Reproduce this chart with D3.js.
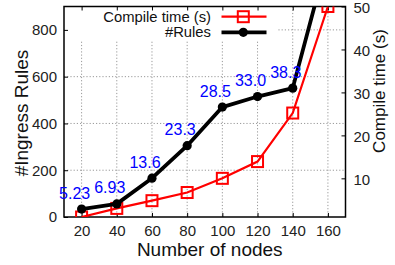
<!DOCTYPE html>
<html>
<head>
<meta charset="utf-8">
<script src="https://cdn.jsdelivr.net/npm/d3@7"></script>
<style>
  html, body { margin: 0; padding: 0; background: #fff; }
  svg { display: block; font-family: "Liberation Sans", Arial, sans-serif; }
</style>
</head>
<body>
<div id="chart"></div>
<script>
// data
const nodes = [20, 40, 60, 80, 100, 120, 140, 160];
const rules = [34, 56, 166, 305, 470, 515, 551, 1115];
const compileTime = [1.0, 3.0, 4.8, 6.7, 10.0, 13.9, 25.2, 50];
const pointLabels = ["5.23", "6.93", "13.6", "23.3", "28.5", "33.0", "38.3"];
const xTicks = [20, 40, 60, 80, 100, 120, 140, 160];
const yTicks = [0, 200, 400, 600, 800];
const y2Ticks = [10, 20, 30, 40, 50];

const W = 395, H = 265;
const margin = { top: 6.5, right: 49.5, bottom: 48, left: 64 };
const iw = W - margin.left - margin.right;
const ih = H - margin.top - margin.bottom;

const svg = d3.select("#chart").append("svg")
  .attr("width", W).attr("height", H);

const g = svg.append("g")
  .attr("transform", `translate(${margin.left},${margin.top})`);

const x = d3.scaleLinear().domain([10, 170]).range([0, iw]);
const y = d3.scaleLinear().domain([0, 900]).range([ih, 0]);
const y2 = d3.scaleLinear().domain([1, 50]).range([ih, 0]);

svg.append("defs").append("clipPath").attr("id", "clip")
  .append("rect").attr("width", iw).attr("height", ih);

// grid
const grid = g.append("g")
  .attr("stroke", "#999").attr("stroke-width", 1)
  .attr("stroke-dasharray", "1.2,2");
grid.selectAll(".vx").data(xTicks).enter().append("line")
  .attr("x1", d => x(d)).attr("x2", d => x(d))
  .attr("y1", 0).attr("y2", ih);
grid.selectAll(".hy").data(yTicks.filter(d => d > 0)).enter().append("line")
  .attr("x1", 0).attr("x2", iw)
  .attr("y1", d => y(d)).attr("y2", d => y(d));

// legend background (opaque key)
g.append("rect")
  .attr("x", 0).attr("y", 0)
  .attr("width", 213).attr("height", 34)
  .attr("fill", "#fff");

// axes
const tickFont = "15px";
const xAxis = g.append("g").attr("transform", `translate(0,${ih})`)
  .call(d3.axisBottom(x).tickValues(xTicks).tickSize(-4).tickPadding(8));
const xTop = g.append("g")
  .call(d3.axisTop(x).tickValues(xTicks).tickSize(-4).tickFormat(""));
const yAxis = g.append("g")
  .call(d3.axisLeft(y).tickValues(yTicks).tickSize(-4).tickPadding(7));
const y2Axis = g.append("g").attr("transform", `translate(${iw},0)`)
  .call(d3.axisRight(y2).tickValues(y2Ticks).tickSize(-4).tickPadding(8));

[xAxis, xTop, yAxis, y2Axis].forEach(a => {
  a.select(".domain").remove();
  a.selectAll(".tick line").attr("stroke", "#000").attr("stroke-width", 1);
  a.selectAll("text").attr("font-size", tickFont).attr("fill", "#222")
    .attr("font-family", "Liberation Sans, Arial, sans-serif");
});
// keep the top "50" inside the window
y2Axis.selectAll("text").attr("dy", "0.4em");

// frame
g.append("rect")
  .attr("width", iw).attr("height", ih)
  .attr("fill", "none").attr("stroke", "#000").attr("stroke-width", 1.5);

// series
const plot = g.append("g").attr("clip-path", "url(#clip)");

const redLine = d3.line().x((d, i) => x(nodes[i])).y(d => y2(d));
plot.append("path").datum(compileTime)
  .attr("d", redLine)
  .attr("fill", "none").attr("stroke", "#f00").attr("stroke-width", 2.2);
plot.selectAll(".sq").data(compileTime).enter().append("rect")
  .attr("x", (d, i) => x(nodes[i]) - 5.5)
  .attr("y", d => y2(d) - 5.5)
  .attr("width", 11).attr("height", 11)
  .attr("fill", "none").attr("stroke", "#f00").attr("stroke-width", 2);

const blackLine = d3.line().x((d, i) => x(nodes[i])).y(d => y(d));
plot.append("path").datum(rules)
  .attr("d", blackLine)
  .attr("fill", "none").attr("stroke", "#000").attr("stroke-width", 3.8)
  .attr("stroke-linejoin", "round");
plot.selectAll(".dot").data(rules).enter().append("circle")
  .attr("cx", (d, i) => x(nodes[i]))
  .attr("cy", d => y(d))
  .attr("r", 4.6).attr("fill", "#000");

// value labels
g.selectAll(".lbl").data(pointLabels).enter().append("text")
  .attr("x", (d, i) => x(nodes[i]) - 7)
  .attr("y", (d, i) => y(rules[i]) - 10.5)
  .attr("text-anchor", "middle")
  .attr("font-size", "16px")
  .attr("fill", "#0000ff")
  .text(d => d);

// legend
const legend = g.append("g");
const keys = [
  { name: "Compile time (s)", color: "#f00", width: 2.2, mark: "square", yy: 10.2 },
  { name: "#Rules", color: "#000", width: 3.8, mark: "circle", yy: 25.8 }
];
keys.forEach(k => {
  legend.append("text")
    .attr("x", 147).attr("y", k.yy + 5)
    .attr("text-anchor", "end")
    .attr("font-size", "14.8px").attr("fill", "#111")
    .text(k.name);
  legend.append("line")
    .attr("x1", 157.5).attr("x2", 202.5)
    .attr("y1", k.yy).attr("y2", k.yy)
    .attr("stroke", k.color).attr("stroke-width", k.width);
  if (k.mark === "square") {
    legend.append("rect")
      .attr("x", 179.3 - 5.5).attr("y", k.yy - 5.5)
      .attr("width", 11).attr("height", 11)
      .attr("fill", "none").attr("stroke", k.color).attr("stroke-width", 2);
  } else {
    legend.append("circle")
      .attr("cx", 179.3).attr("cy", k.yy).attr("r", 4.6).attr("fill", k.color);
  }
});

// axis titles
svg.append("text")
  .attr("x", margin.left + iw / 2 + 5).attr("y", 256)
  .attr("text-anchor", "middle").attr("font-size", "19px").attr("fill", "#111")
  .text("Number of nodes");
svg.append("text")
  .attr("transform", "translate(28,113) rotate(-90)")
  .attr("text-anchor", "middle").attr("font-size", "19px").attr("fill", "#111")
  .text("#Ingress Rules");
svg.append("text")
  .attr("transform", "translate(385,91) rotate(-90)")
  .attr("text-anchor", "middle").attr("font-size", "17px").attr("fill", "#111")
  .text("Compile time (s)");
</script>
</body>
</html>
